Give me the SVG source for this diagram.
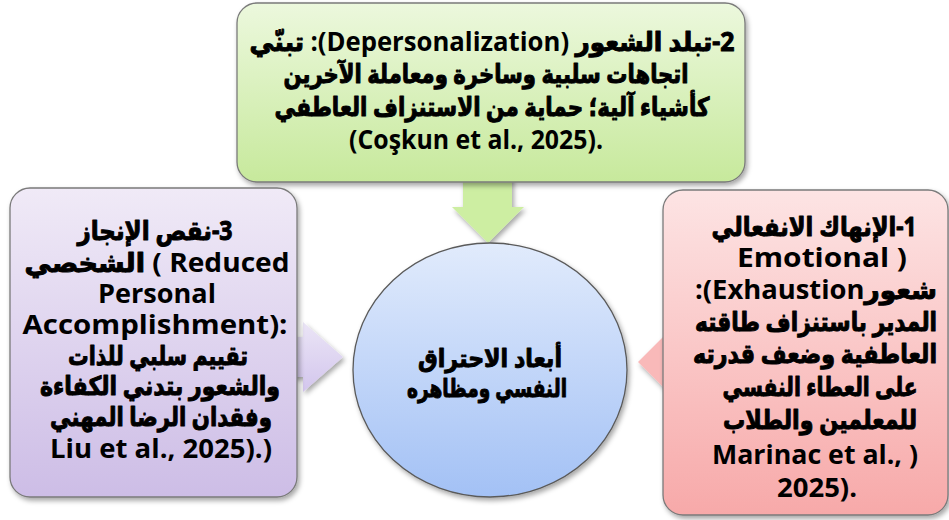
<svg xmlns="http://www.w3.org/2000/svg" width="949" height="520" viewBox="0 0 949 520">
<style>
.t{font-family:"Open Sans","DejaVu Sans",sans-serif;font-weight:bold;font-size:27px;fill:#000;text-anchor:middle}
.ar{font-size:26px;stroke:#000;stroke-width:1px;stroke-linejoin:round}
.c{font-size:25px}
.box{stroke:#7a7a7a;stroke-width:1.3}
</style>
<defs>
<linearGradient id="gG" x1="0" y1="0" x2="0" y2="1"><stop offset="0" stop-color="#ecf8dd"/><stop offset="1" stop-color="#c7e99c"/></linearGradient>
<linearGradient id="gP" x1="0" y1="0" x2="0" y2="1"><stop offset="0" stop-color="#f0eaf7"/><stop offset="1" stop-color="#cdbde6"/></linearGradient>
<linearGradient id="gR" x1="0" y1="0" x2="0" y2="1"><stop offset="0" stop-color="#fde4e4"/><stop offset="1" stop-color="#f7a9a9"/></linearGradient>
<linearGradient id="gB" x1="0" y1="0" x2="0" y2="1"><stop offset="0" stop-color="#e1ebfc"/><stop offset="1" stop-color="#a3c1f5"/></linearGradient>
<linearGradient id="aP" x1="0" y1="0" x2="0" y2="1"><stop offset="0" stop-color="#ebe5f6"/><stop offset="1" stop-color="#d3c6ed"/></linearGradient>
<filter id="sh" x="-10%" y="-10%" width="125%" height="125%"><feDropShadow dx="2" dy="3" stdDeviation="2.5" flood-color="#000" flood-opacity="0.35"/></filter>
</defs>
<g id="connectors" filter="url(#sh)">
<path d="M463,175 H512 V207 H524 L488,243 L452,207 H463 Z" fill="#cdeea2"/>
<path d="M280,337 H303 V322 L343,357 L303,392 V377 H280 Z" fill="url(#aP)"/>
<path d="M638,362 L676,324 V340 H700 V384 H676 V400 Z" fill="#f9b9b9"/>
</g>
<g id="node-top">
<rect class="box" x="237" y="3" width="508" height="179" rx="20" fill="url(#gG)" filter="url(#sh)"/>
<text class="t" x="492" y="51" direction="rtl" textLength="485" lengthAdjust="spacingAndGlyphs"><tspan class="ar">2-تبلد الشعور </tspan>(Depersonalization):<tspan class="ar"> تبنّي</tspan></text>
<text class="t ar" x="486" y="83" direction="rtl" textLength="405" lengthAdjust="spacingAndGlyphs">اتجاهات سلبية وساخرة ومعاملة الآخرين</text>
<text class="t ar" x="492" y="116" direction="rtl" textLength="435" lengthAdjust="spacingAndGlyphs">كأشياء آلية؛ حماية من الاستنزاف العاطفي</text>
<text class="t" x="476" y="149" textLength="254" lengthAdjust="spacingAndGlyphs">(Coşkun et al., 2025).</text>
</g>
<g id="node-left">
<rect class="box" x="10" y="188" width="287" height="309" rx="20" fill="url(#gP)" filter="url(#sh)"/>
<text class="t ar" x="155" y="240" direction="rtl" textLength="155" lengthAdjust="spacingAndGlyphs">3-نقص الإنجاز</text>
<text class="t" x="157" y="272" textLength="265" lengthAdjust="spacingAndGlyphs"><tspan class="ar">الشخصي</tspan> ( Reduced</text>
<text class="t" x="157" y="303" textLength="118" lengthAdjust="spacingAndGlyphs">Personal</text>
<text class="t" x="155" y="334" textLength="265" lengthAdjust="spacingAndGlyphs">Accomplishment):</text>
<text class="t ar" x="158" y="365" direction="rtl" textLength="180" lengthAdjust="spacingAndGlyphs">تقييم سلبي للذات</text>
<text class="t ar" x="160" y="395" direction="rtl" textLength="240" lengthAdjust="spacingAndGlyphs">والشعور بتدني الكفاءة</text>
<text class="t ar" x="161" y="426" direction="rtl" textLength="222" lengthAdjust="spacingAndGlyphs">وفقدان الرضا المهني</text>
<text class="t" x="161" y="458" textLength="222" lengthAdjust="spacingAndGlyphs">Liu et al., 2025).)</text>
</g>
<g id="node-right">
<rect class="box" x="663" y="190" width="285" height="325" rx="20" fill="url(#gR)" filter="url(#sh)"/>
<text class="t ar" x="814" y="236" direction="rtl" textLength="205" lengthAdjust="spacingAndGlyphs">1-الإنهاك الانفعالي</text>
<text class="t" x="822" y="267" textLength="170" lengthAdjust="spacingAndGlyphs">Emotional )</text>
<text class="t" x="816" y="299" textLength="242" lengthAdjust="spacingAndGlyphs">:(Exhaustion<tspan class="ar">شعور</tspan></text>
<text class="t ar" x="816" y="331" direction="rtl" textLength="242" lengthAdjust="spacingAndGlyphs">المدير باستنزاف طاقته</text>
<text class="t ar" x="815" y="363" direction="rtl" textLength="244" lengthAdjust="spacingAndGlyphs">العاطفية وضعف قدرته</text>
<text class="t ar" x="820" y="396" direction="rtl" textLength="195" lengthAdjust="spacingAndGlyphs">على العطاء النفسي</text>
<text class="t ar" x="820" y="429" direction="rtl" textLength="194" lengthAdjust="spacingAndGlyphs">للمعلمين والطلاب</text>
<text class="t" x="815" y="464" textLength="206" lengthAdjust="spacingAndGlyphs">Marinac et al., )</text>
<text class="t" x="817" y="497" textLength="80" lengthAdjust="spacingAndGlyphs">2025).</text>
</g>
<g id="node-center">
<ellipse cx="490" cy="370" rx="137" ry="127" fill="url(#gB)" stroke="#5a5a5a" stroke-width="1.3" filter="url(#sh)"/>
<text class="t ar c" x="490" y="367" direction="rtl" textLength="144" lengthAdjust="spacingAndGlyphs">أبعاد الاحتراق</text>
<text class="t ar c" x="487" y="397" direction="rtl" textLength="160" lengthAdjust="spacingAndGlyphs">النفسي ومظاهره</text>
</g>
</svg>
